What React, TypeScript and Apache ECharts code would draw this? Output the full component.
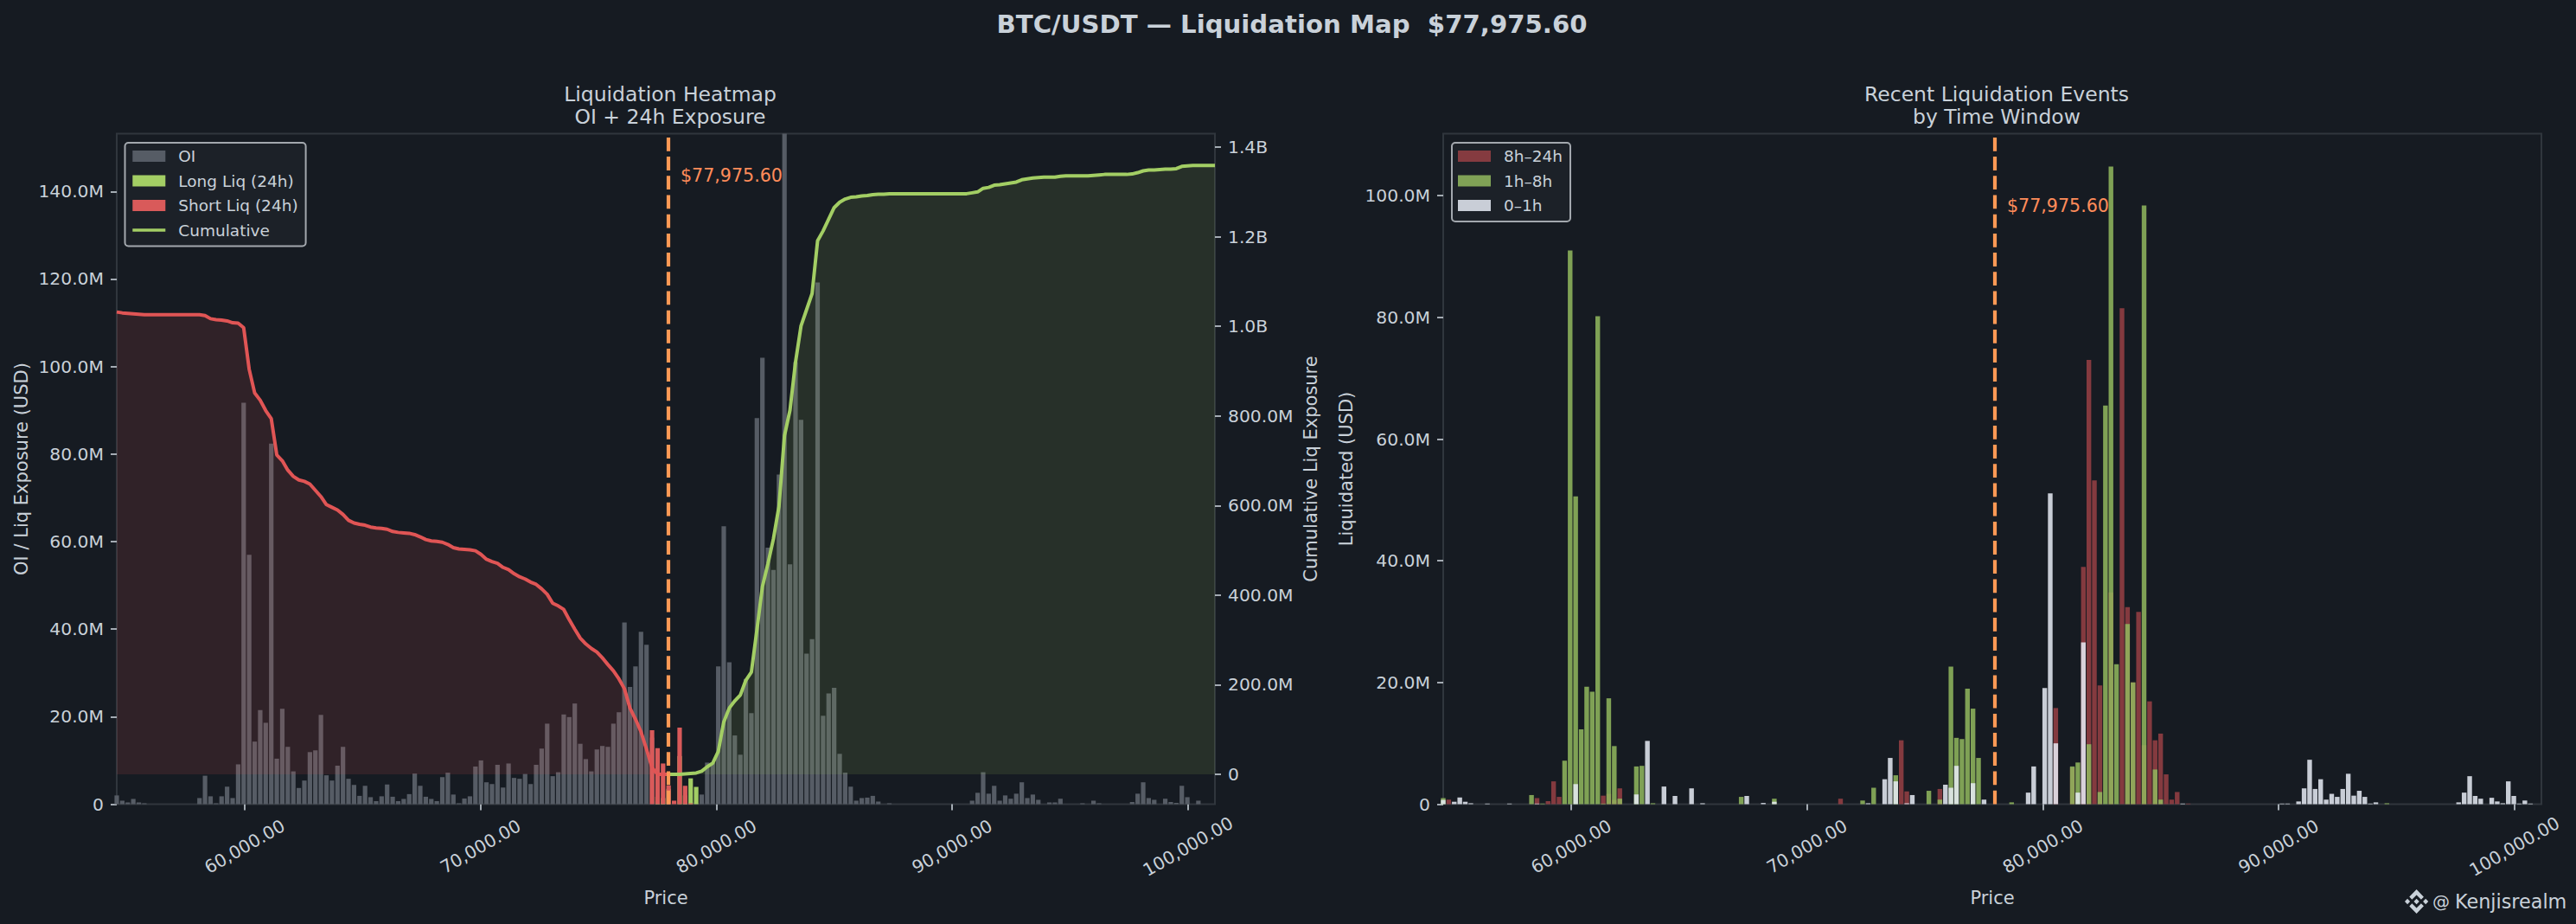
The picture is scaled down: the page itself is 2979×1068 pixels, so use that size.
import React, { useEffect, useRef } from "react";
import * as echarts from "echarts";

// Price grid (bin centres)
const priceStart = 54577;
const priceStep = 234;
const priceEnd = 101143;
const currentPrice = 77975.6;
const xTicks = [60000, 70000, 80000, 90000, 100000];
const leftTicks = [0, 20, 40, 60, 80, 100, 120, 140];
const cumTicks = [0, 200, 400, 600, 800, 1000, 1200, 1400];
const rightTicks = [0, 20, 40, 60, 80, 100];

// Left panel, USD millions, per bin
const oi = [
  2.0, 0.8, 0.4, 1.2, 0.4, 0.2, 0, 0, 0, 0,
  0, 0, 0, 0, 0, 1.4, 6.5, 1.8, 0.2, 1.8,
  4.0, 1.4, 9.1, 91.7, 57.0, 14.3, 21.5, 18.6, 82.4, 10.4,
  21.8, 13.1, 7.5, 3.7, 5.4, 11.9, 12.3, 20.4, 6.6, 5.4,
  8.8, 13.1, 5.8, 4.4, 1.9, 4.2, 1.6, 0.7, 1.8, 4.5,
  1.7, 0.7, 1.2, 2.3, 7.0, 4.2, 1.7, 1.2, 0.7, 6.2,
  7.2, 2.2, 0.2, 1.3, 1.8, 8.6, 10.0, 5.0, 4.6, 9.0,
  3.8, 9.3, 6.0, 5.8, 6.9, 4.6, 9.0, 12.7, 18.4, 6.4,
  7.3, 20.5, 19.9, 23.0, 13.8, 10.3, 7.5, 12.5, 13.3, 13.1,
  18.4, 21.0, 41.5, 26.8, 31.5, 39.4, 36.4, 15.2, 0.7, 0.2,
  0.2, 0, 0, 0.2, 0.5, 0.2, 2.2, 9.5, 9.5, 31.5,
  63.5, 32.4, 15.7, 11.3, 28.6, 20.8, 88.2, 102, 58.6, 53.5,
  75.3, 153.2, 54.8, 101, 87.8, 34.4, 37.7, 119.2, 20.2, 25.3,
  26.6, 11.5, 7.2, 4.0, 0.8, 1.4, 1.5, 1.9, 0.6, 0,
  0.2, 0, 0, 0, 0, 0, 0, 0, 0, 0,
  0, 0, 0, 0, 0, 0.8, 2.6, 7.3, 2.4, 4.2,
  0.8, 2.0, 1.25, 2.4, 5.0, 1.4, 2.2, 1.0, 0, 0.4,
  0.4, 1.25, 0, 0, 0, 0.2, 0, 0.8, 0.2, 0,
  0, 0, 0, 0, 0.5, 2.4, 5.0, 1.4, 1.0, 0,
  1.25, 0.5, 0.3, 4.2, 1.6, 0, 0.8, 0, 0, 0,
];
// [bin, value above OI]
const longLiqBins = [[98, 1.7], [99, 1.4], [100, 3.5], [102, 11], [103, 2.0], [104, 5.9], [105, 3.95]];
const shortLiqBins = [[97, 16.9], [98, 12.8], [99, 9.3], [100, 4.3], [101, 0.8], [102, 17.5], [103, 4.2], [104, 0.2]];

// Cumulative exposure, USD millions
const cumShort = [
  1032, 1030, 1029, 1028, 1027, 1026, 1026, 1026, 1026, 1026,
  1026, 1026, 1026, 1026, 1026, 1026, 1024, 1017, 1015, 1014,
  1012, 1008, 1007, 997, 904, 851, 835, 812, 794, 713,
  700, 679, 665, 657, 654, 648, 634, 620, 602, 596,
  590, 580, 567, 561, 558, 556, 552, 550, 549, 547,
  542, 540, 539, 538, 535, 530, 524, 521, 520, 518,
  513, 506, 503, 502, 501, 499, 491, 480, 475, 471,
  462, 457, 448, 441, 436, 429, 424, 414, 402, 382,
  376, 368, 345, 324, 304, 291, 281, 273, 260, 245,
  231, 213, 191, 148, 123, 95, 56, 15, 0, 0, 0,
];
const cumLong = [
  0, 0, 0, 1, 2, 3, 7, 17, 25, 51,
  117, 148, 164, 177, 210, 228, 322, 419, 470, 526,
  598, 756, 813, 920, 1001, 1037, 1073, 1191, 1213, 1239,
  1265, 1277, 1284, 1288, 1289, 1291, 1292, 1294, 1295, 1295,
  1296, 1296, 1296, 1296, 1296, 1296, 1296, 1296, 1296, 1296,
  1296, 1296, 1296, 1296, 1296, 1298, 1300, 1308, 1310, 1315,
  1316, 1318, 1320, 1322, 1327, 1329, 1331, 1332, 1333, 1333,
  1333, 1335, 1336, 1336, 1336, 1336, 1336, 1337, 1338, 1339,
  1339, 1339, 1339, 1339, 1340, 1343, 1347, 1349, 1349, 1350,
  1351, 1351, 1352, 1357, 1358, 1359, 1359, 1359, 1359, 1359,
];

// Right panel, [bin, USD millions]
const win8h24h = [
  [1, 0.75], [17, 1.0], [19, 0.5], [20, 3.75], [21, 1.2], [29, 1.4], [30, 1.7], [31, 0.7], [32, 2.6],
  [72, 0.9], [83, 10.5], [84, 2.1], [90, 2.5], [111, 15.8], [114, 6], [116, 39], [117, 73], [118, 53.2],
  [119, 19.5], [121, 34.8], [123, 81.5], [124, 32.4], [125, 20], [126, 31.6], [127, 9.7], [128, 16.9],
  [129, 10.5], [130, 11.6], [131, 4.9], [132, 0.75], [133, 2.0], [135, 0.1],
];
const win1h8h = [
  [0, 1.0], [16, 1.5], [18, 0.1], [22, 7.15], [23, 91], [24, 50.6], [25, 12.3], [26, 19.3], [27, 18.5],
  [28, 80.2], [29, 0.1], [30, 17.4], [31, 9.55], [32, 0.9], [35, 6.2], [36, 6.3], [38, 0.15], [54, 1.2],
  [60, 0.9], [76, 0.6], [78, 2.7], [82, 4.75], [88, 2.2], [90, 0.75], [92, 22.6], [93, 10.9], [94, 10.7],
  [95, 19.0], [96, 15.7], [97, 7.6], [103, 0.3], [114, 6.2], [115, 6.85], [117, 9.85], [119, 2.0],
  [120, 65.5], [121, 104.8], [122, 23], [124, 29.6], [125, 20], [127, 98.4], [129, 5.7], [130, 0.75], [171, 0.15],
];
const win0h1h = [
  [0, 0.7], [2, 0.4], [3, 1.1], [4, 0.4], [5, 0.15], [8, 0.1], [12, 0.1], [17, 0.1], [24, 3.3], [35, 1.6],
  [37, 10.4], [40, 2.9], [42, 1.35], [45, 2.6], [47, 0.15], [55, 1.35], [58, 0.2], [60, 0.4], [77, 0.15],
  [80, 4.1], [81, 7.6], [82, 3.75], [84, 0.15], [85, 1.5], [91, 3.2], [92, 2.7], [93, 6.3], [96, 3.45],
  [98, 0.75], [106, 1.9], [107, 6.2], [109, 19.1], [110, 51.1], [111, 10], [115, 1.9], [116, 26.6],
  [134, 0.1], [152, 0.1], [153, 0.1], [155, 0.45], [156, 2.6], [157, 7.3], [158, 2.5], [159, 4.1], [160, 0.75],
  [161, 1.7], [162, 1.2], [163, 2.5], [164, 5.0], [165, 1.4], [166, 2.2], [167, 1.2], [168, 0.1], [169, 0.3],
  [184, 0.3], [185, 1.9], [186, 4.6], [187, 1.35], [188, 0.9], [190, 1.05], [191, 0.45], [192, 0.15],
  [193, 3.75], [194, 1.35], [195, 0.1], [196, 0.6], [197, 0.1],
];

const LOGO =
  "M9.8 13.5 16 7.3l6.2 6.2 3.6-3.6L16 0 6.2 9.8l3.6 3.7zM0 16l3.6-3.6L7.2 16l-3.6 3.6L0 16zm9.8 2.5L16 24.7l6.2-6.2 3.6 3.6L16 32l-9.8-9.8 3.6-3.7zM24.8 16l3.6-3.6L32 16l-3.6 3.6L24.8 16zm-5.1 0L16 19.7 12.3 16 16 12.3 19.7 16z";
echarts.graphic.registerShape("logo", echarts.graphic.extendPath(LOGO as any, {}) as any);

const BG = "#161b22";
const TEXT = "#c9d1d9";
const SPINE = "#30363d";
const FONT = "DejaVu Sans";
const ORANGE = "#ff9955";
const GREEN = "#a3ce64";
const RED = "#e05555";
const price = (i: number) => priceStart + priceStep * i;
const sparse = (pairs: number[][]) => pairs.map(([i, v]) => [price(i), v]);
const fmt = (v: number) => (v === 0 ? "0" : v >= 1000 ? (v / 1000).toFixed(1) + "B" : v.toFixed(1) + "M");

function xAxis(gridIndex: number) {
  return {
    type: "value",
    gridIndex,
    min: priceStart,
    max: priceEnd,
    name: "Price",
    nameLocation: "middle",
    nameGap: 98,
    nameTextStyle: { color: TEXT, fontSize: 21, fontFamily: FONT },
    axisLine: { show: false },
    axisTick: { show: true, length: 7, customValues: xTicks, lineStyle: { color: TEXT, width: 1.6 } },
    splitLine: { show: false },
    axisLabel: {
      customValues: xTicks,
      rotate: 30,
      align: "center",
      verticalAlign: "middle",
      margin: 49,
      color: TEXT,
      fontSize: 20.3,
      fontFamily: FONT,
      formatter: (v: number) => v.toLocaleString("en-US", { minimumFractionDigits: 2, maximumFractionDigits: 2 }),
    },
  };
}
function yAxis(gridIndex: number, position: string, min: number, max: number, ticks: number[], name: string, nameGap: number) {
  return {
    type: "value",
    gridIndex,
    position,
    min,
    max,
    name,
    nameLocation: "middle",
    nameGap,
    nameRotate: 90,
    nameTextStyle: { color: TEXT, fontSize: 21, fontFamily: FONT },
    axisLine: { show: false },
    axisTick: { show: true, length: 7, customValues: ticks, lineStyle: { color: TEXT, width: 1.6 } },
    splitLine: { show: false },
    axisLabel: { customValues: ticks, margin: 15, color: TEXT, fontSize: 20.3, fontFamily: FONT, formatter: fmt },
  };
}
function priceLine() {
  return {
    silent: true,
    symbol: "none",
    label: { show: false },
    animation: false,
    lineStyle: { color: ORANGE, width: 4.2, type: [15.8, 6.4], opacity: 1 },
    data: [{ xAxis: currentPrice }],
  };
}
function legend(left: number, names: any[]) {
  return {
    show: true,
    left,
    top: 165,
    orient: "vertical",
    data: names,
    itemWidth: 38,
    itemHeight: 13,
    itemGap: 9.5,
    padding: [6, 9, 9, 7],
    backgroundColor: "#1c2128",
    borderColor: "#a3a8ae",
    borderWidth: 2,
    borderRadius: 4,
    selectedMode: false,
    textStyle: { color: TEXT, fontSize: 18.5, fontFamily: FONT, padding: [0, 0, 0, 10] },
  };
}

export default function App() {
  const ref = useRef<HTMLDivElement>(null);
  useEffect(() => {
    document.body.style.margin = "0";
    document.body.style.background = BG;
    const chart = echarts.init(ref.current!, undefined, { renderer: "svg" });
    const grid0 = { xAxisIndex: 0, yAxisIndex: 0 };
    const grid1 = { xAxisIndex: 1, yAxisIndex: 2 };
    const left = (n: string, color: string, data: any[], extra: any = {}) => ({
      type: "bar", name: n, ...grid0, stack: "liq", barWidth: 5.2, itemStyle: { color }, data, ...extra,
    });
    const right = (n: string, color: string, data: any[], extra: any = {}) => ({
      type: "bar", name: n, ...grid1, barWidth: 5.4, barGap: "-100%", itemStyle: { color, opacity: 0.85 }, data, ...extra,
    });
    const subTitle = (text: string, x: number) => ({
      text, left: x, top: 91, textAlign: "center",
      textStyle: { color: TEXT, fontSize: 23.5, fontWeight: "normal", fontFamily: FONT, lineHeight: 26 },
    });
    chart.setOption({
      animation: false,
      backgroundColor: BG,
      title: [
        { text: "BTC/USDT — Liquidation Map  $77,975.60", left: 1489, top: 8, textAlign: "center",
          textStyle: { color: TEXT, fontSize: 29.2, fontWeight: "bold", fontFamily: FONT } },
        subTitle("Liquidation Heatmap\nOI + 24h Exposure", 770),
        subTitle("Recent Liquidation Events\nby Time Window", 2304),
      ],
      legend: [
        legend(144.5, [
          { name: "OI", icon: "rect" },
          { name: "Long Liq (24h)", icon: "rect" },
          { name: "Short Liq (24h)", icon: "rect" },
          { name: "Cumulative", itemStyle: { opacity: 0 }, lineStyle: { color: GREEN, width: 3.6 } },
        ]),
        legend(1679, [
          { name: "8h–24h", icon: "rect" },
          { name: "1h–8h", icon: "rect" },
          { name: "0–1h", icon: "rect" },
        ]),
      ],
      grid: [
        { left: 135, top: 154.5, width: 1270, height: 775, show: true, borderColor: SPINE, borderWidth: 2, backgroundColor: "transparent" },
        { left: 1669, top: 154.5, width: 1270, height: 775, show: true, borderColor: SPINE, borderWidth: 2, backgroundColor: "transparent" },
      ],
      xAxis: [xAxis(0), xAxis(1)],
      yAxis: [
        yAxis(0, "left", 0, 153.2, leftTicks, "OI / Liq Exposure (USD)", 100),
        yAxis(0, "right", -66.6, 1430, cumTicks, "Cumulative Liq Exposure", 100),
        yAxis(1, "left", 0, 110.2, rightTicks, "Liquidated (USD)", 102),
      ],
      series: [
        left("OI", "#565c65", oi.map((v, i) => [price(i), v])),
        left("Long Liq (24h)", GREEN, sparse(longLiqBins)),
        left("Short Liq (24h)", "#d95a5a", sparse(shortLiqBins), { markLine: priceLine() }),
        {
          type: "line", name: "Short cumulative", xAxisIndex: 0, yAxisIndex: 1, showSymbol: false, symbol: "none",
          lineStyle: { color: RED, width: 4 }, itemStyle: { color: RED },
          areaStyle: { color: RED, opacity: 0.13 }, data: cumShort.map((v, i) => [price(i), v]),
        },
        {
          type: "line", name: "Cumulative", xAxisIndex: 0, yAxisIndex: 1, showSymbol: false, symbol: "none",
          lineStyle: { color: GREEN, width: 4 }, itemStyle: { color: GREEN },
          areaStyle: { color: GREEN, opacity: 0.12 }, data: cumLong.map((v, i) => [price(100 + i), v]),
        },
        right("8h–24h", "#984044", sparse(win8h24h), { markLine: priceLine() }),
        right("1h–8h", "#92b85e", sparse(win1h8h)),
        right("0–1h", "#e7ecf6", sparse(win0h1h)),
      ],
      graphic: [
        { type: "text", x: 787, y: 202.5, style: { text: "$77,975.60", fill: "#ff8c5a", fontSize: 20.6, fontFamily: FONT, verticalAlign: "middle" } },
        { type: "text", x: 2321, y: 237.5, style: { text: "$77,975.60", fill: "#ff8c5a", fontSize: 20.6, fontFamily: FONT, verticalAlign: "middle" } },
        { type: "logo", x: 2781, y: 1028, scaleX: 0.85, scaleY: 0.875, style: { fill: TEXT } },
        { type: "text", x: 2813, y: 1042, style: { text: "@", fill: TEXT, fontSize: 20, fontFamily: FONT, verticalAlign: "middle" } },
        { type: "text", x: 2839, y: 1042, style: { text: "Kenjisrealm", fill: TEXT, fontSize: 22.3, fontFamily: FONT, verticalAlign: "middle" } },
      ],
    });
    return () => chart.dispose();
  }, []);
  return <div ref={ref} style={{ position: "absolute", left: 0, top: 0, width: 2979, height: 1068 }} />;
}
